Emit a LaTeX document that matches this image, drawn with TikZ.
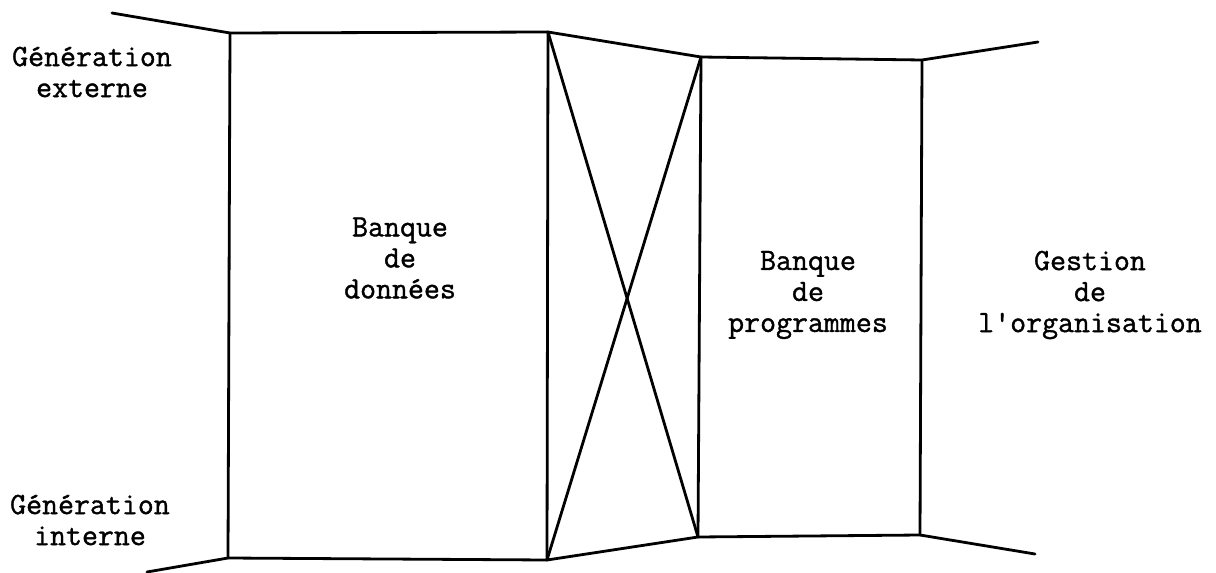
\documentclass[tikz,border=0pt]{standalone}
\usepackage{fontspec}
\newfontfamily\twfont{Latin Modern Mono}[FakeBold=1.2]
\begin{document}
\begin{tikzpicture}[x=0.5pt,y=-0.5pt,
  edge/.style={line width=1.4pt,line join=round,line cap=round},
  lbl/.style={font=\twfont\fontsize{15.5pt}{15.5pt}\selectfont,align=center,inner sep=0pt}]
\useasboundingbox (0,0) rectangle (1216,573);
% corners
\coordinate (tl0) at (112,13);
\coordinate (a1) at (230,33);
\coordinate (a2) at (548,32);
\coordinate (b1) at (701,57);
\coordinate (b2) at (922,60);
\coordinate (tr0) at (1038,42);
\coordinate (bl0) at (147,572);
\coordinate (c1) at (228,558);
\coordinate (c2) at (547,560);
\coordinate (d1) at (698,537);
\coordinate (d2) at (920,535);
\coordinate (br0) at (1035,554);
% outline
\draw[edge] (tl0) -- (a1) -- (a2) -- (b1) -- (b2) -- (tr0);
\draw[edge] (bl0) -- (c1) -- (c2) -- (d1) -- (d2) -- (br0);
\draw[edge] (a1) -- (c1);
\draw[edge] (a2) -- (c2);
\draw[edge] (b1) -- (d1);
\draw[edge] (b2) -- (d2);
\draw[edge] (a2) -- (d1);
\draw[edge] (c2) -- (b1);
% labels
\node[lbl] (gext) at (92,72) {Génération\\externe};
\node[lbl] (gint) at (90,520) {Génération\\interne};
\node[lbl] (bdd) at (400,258) {Banque\\de\\données};
\node[lbl] (bdp) at (808,295) {Banque\\de\\programmes};
\node[lbl] (gest) at (1090,295) {Gestion\\de\\l'organisation};
\end{tikzpicture}
\end{document}
